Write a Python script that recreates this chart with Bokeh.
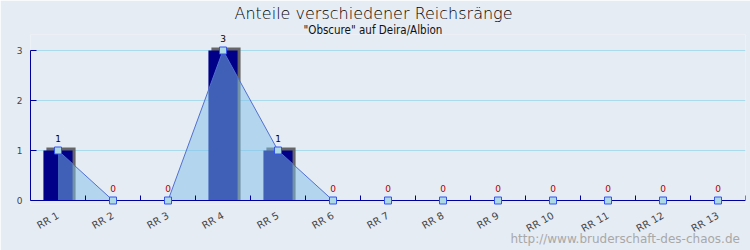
from bokeh.plotting import figure
from bokeh.models import FixedTicker, Range1d, Title, LinearAxis, ColumnDataSource
from bokeh.core.properties import value
from bokeh.embed import file_html
from bokeh.resources import INLINE

categories = ["RR 1", "RR 2", "RR 3", "RR 4", "RR 5", "RR 6", "RR 7",
              "RR 8", "RR 9", "RR 10", "RR 11", "RR 12", "RR 13"]
counts = [1, 0, 0, 3, 1, 0, 0, 0, 0, 0, 0, 0, 0]
y_ticks = [0, 1, 2, 3]

title_text = "Anteile verschiedener Reichsränge"
subtitle_text = '"Obscure" auf Deira/Albion'
footer_text = "http://www.bruderschaft-des-chaos.de"

BG = "#e6ecf4"
AXIS = "#0000a0"

n = len(categories)
xc = [i + 0.5 for i in range(n)]
label_colors = ["#b00000" if v == 0 else "black" for v in counts]
src = ColumnDataSource(dict(x=xc, y=counts, lbl=[str(v) for v in counts], col=label_colors,
                            xs=[x + 3 / 55 for x in xc], ys=[v + 3 / 50 if v > 0 else 0 for v in counts]))

p = figure(width=750, height=250, output_backend="svg", toolbar_location=None,
           x_range=Range1d(0, n), y_range=Range1d(-0.08, 3.32),
           min_border_left=30, min_border_right=5, min_border_top=34, min_border_bottom=46,
           background_fill_color=BG, border_fill_color=BG, outline_line_color=None)
p.title = None

# titles
p.add_layout(Title(text=subtitle_text, align="left", text_font="DejaVu Sans Condensed",
                   text_font_size="11.5px", text_font_style="normal", text_color="#111111",
                   standoff=-4, offset=273), "above")
p.add_layout(Title(text=title_text, align="left", text_font="DejaVu Sans Light",
                   text_font_size="16px", text_font_style="normal", text_color="black",
                   standoff=0, offset=204), "above")

# grid
p.xgrid.visible = False
p.ygrid.ticker = FixedTicker(ticks=y_ticks)
p.ygrid.grid_line_color = "#a8dced"

# y axis
p.yaxis.ticker = FixedTicker(ticks=y_ticks)
p.yaxis.bounds = (0, 3)
p.yaxis.axis_line_color = AXIS
p.yaxis.major_tick_line_color = AXIS
p.yaxis.major_tick_in = 6
p.yaxis.major_tick_out = 0
p.yaxis.minor_tick_line_color = None
p.yaxis.major_label_standoff = 8
p.yaxis.major_label_text_font = "DejaVu Sans"
p.yaxis.major_label_text_font_size = "9px"

# x axis: category labels in the lower panel
p.xaxis.ticker = FixedTicker(ticks=xc)
p.xaxis.major_label_overrides = {x: c for x, c in zip(xc, categories)}
p.xaxis.axis_line_color = None
p.xaxis.major_tick_line_color = None
p.xaxis.minor_tick_line_color = None
p.xaxis.major_tick_in = 0
p.xaxis.major_tick_out = 0
p.xaxis.major_label_orientation = 0.52
p.xaxis.major_label_standoff = 10
p.xaxis.major_label_text_font = "DejaVu Sans"
p.xaxis.major_label_text_font_size = "10px"
p.xaxis.axis_label_standoff = 0

# x axis line at y = 0 with ticks at category boundaries
base = LinearAxis(fixed_location=0, ticker=FixedTicker(ticks=[], minor_ticks=list(range(1, n + 1))),
                  axis_line_color=AXIS, major_tick_line_color=None, minor_tick_line_color=AXIS,
                  minor_tick_in=5, minor_tick_out=0, major_tick_in=0, major_tick_out=0,
                  major_label_text_font_size="0px", major_label_standoff=0, axis_label_standoff=0)
p.add_layout(base, "below")

p.add_layout(Title(text=footer_text, align="left", vertical_align="top", text_font="DejaVu Sans",
                   text_font_size="12px", text_font_style="normal", text_color="#a8a8a8",
                   standoff=-20, offset=480), "below")

# bars with 3D shadow
p.vbar(x="xs", top="ys", width=0.53, bottom=0, source=src, fill_color="#666666", line_color=None)
p.vbar(x="x", top="y", width=0.53, bottom=0, source=src, fill_color="#000088", line_color=None)

# area + line
p.varea(x="x", y1=0, y2="y", source=src, fill_color="#80c0e8", fill_alpha=0.5)
p.line(x="x", y="y", source=src, line_color="#5070d0", line_width=1)
p.scatter(x="x", y="y", source=src, marker="square", size=7, level="overlay",
          fill_color="#add8e6", line_color="#3355ee", line_width=1)

p.text(x="x", y="y", text="lbl", source=src, text_color="col", text_align="center", level="overlay",
       text_baseline="bottom", y_offset=-9, text_font=value("DejaVu Sans"), text_font_size="9px")

open("out.html", "w").write(file_html(p, INLINE))
